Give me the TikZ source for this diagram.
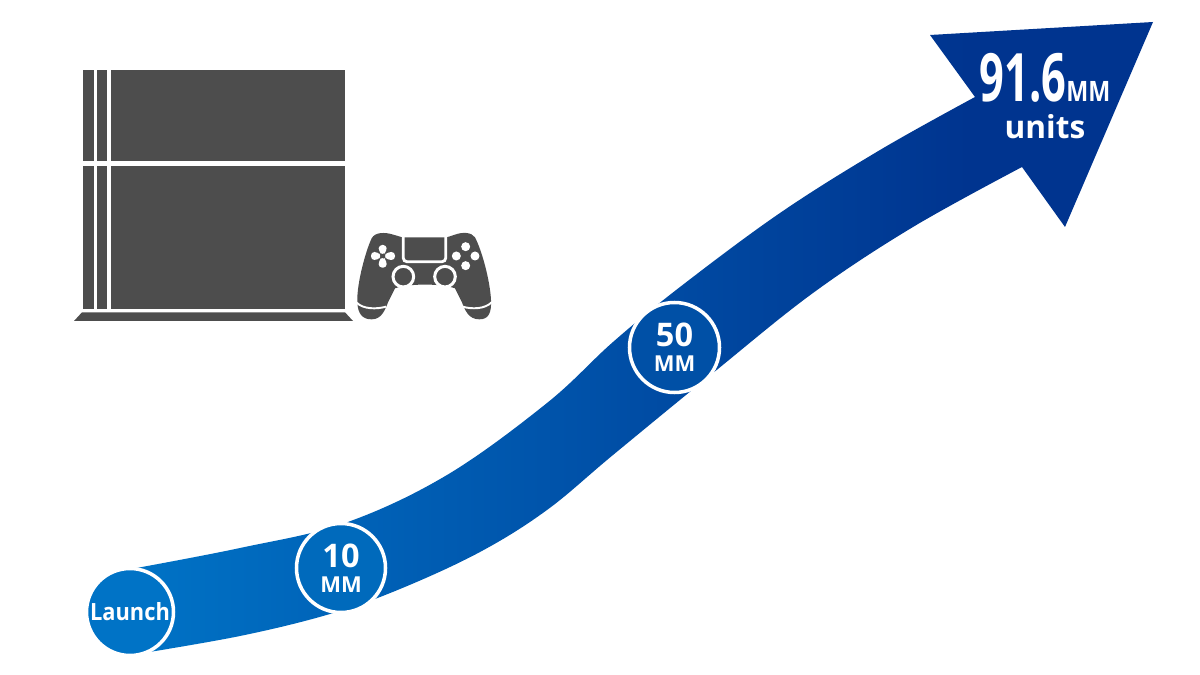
\documentclass[tikz,border=0pt]{standalone}
\usepackage{fontspec}
\setmainfont{Open Sans}
\definecolor{G}{RGB}{77, 77, 77}
\definecolor{L}{RGB}{0, 115, 198}
\definecolor{D}{RGB}{0, 52, 143}
\definecolor{T}{RGB}{0, 106, 188}
\definecolor{F}{RGB}{0, 80, 166}
\pgfdeclarehorizontalshading{bandfade}{100bp}{color(0bp)=(L); color(25bp)=(L); color(66bp)=(D); color(100bp)=(D)}
\tikzset{stage/.style={circle, draw=white, line width=2pt, inner sep=0pt, text=white, font=\bfseries, align=center}}
\tikzset{label/.style={text=white, font=\bfseries, inner sep=0pt}}
\begin{document}
\begin{tikzpicture}[x=0.02cm, y=-0.02cm]
  \useasboundingbox (0,0) rectangle (1200,675);
  \shade[shading=bandfade] plot[smooth, tension=0.6] coordinates {(131,569) (240,548) (345,523) (447,475) (547,403) (613,342) (680,287) (780,213) (880,150) (975,97)} -- (930,35) -- (1153,22) -- (1065,227) -- plot[smooth, tension=0.6] coordinates {(1022,167) (913,227) (813,293) (713,373) (613,455) (547,510) (480,552) (400,589) (330,614) (240,636) (131,655)} -- cycle;
  \fill[G] (83,70) rectangle (93.7,161.3);
  \fill[G] (96.7,70) rectangle (106.7,161.3);
  \fill[G] (110.7,70) rectangle (345,161.3);
  \fill[G] (83,165.7) rectangle (93.7,309);
  \fill[G] (96.7,165.7) rectangle (106.7,309);
  \fill[G] (110.7,165.7) rectangle (345,309);
  \fill[G] (82,312.3) -- (345,312.3) -- (353,321) -- (74,321) -- cycle;
  \begin{scope}[shift={(340,220)}, x=0.02cm/3, y=-0.02cm/3]
    \fill[G] (187,52) -- (160,44) .. controls (135,36) and (105,36) .. (95,55) .. controls (78,90) and (50,190) .. (52,245) .. controls (53,285) and (70,298) .. (95,298) .. controls (125,298) and (135,270) .. (145,245) -- (165,205) .. controls (205,190) and (305,190) .. (345,205) -- (365,245) .. controls (375,270) and (385,298) .. (418,298) .. controls (445,298) and (455,280) .. (453,240) .. controls (450,180) and (425,90) .. (405,52) .. controls (395,36) and (365,36) .. (345,44) -- (320,52) -- cycle;
    \draw[white, line width=1.1pt] (50,248) .. controls (70,268) and (110,268) .. (138,260);
    \draw[white, line width=1.1pt] (368,260) .. controls (395,268) and (435,268) .. (456,246);
    \draw[white, line width=1.6pt, rounded corners=2pt] (190,48) -- (190,125) -- (317,125) -- (317,48);
    \draw[white, line width=1.7pt, fill=G] (190,170) circle (31);
    \draw[white, line width=1.7pt, fill=G] (315,170) circle (31);
    \fill[white, rounded corners=2pt] (116,75) -- (140,75) -- (140,94) -- (128,106) -- (116,94) -- cycle;
    \fill[white, rounded corners=2pt] (116,143) -- (140,143) -- (140,122) -- (128,110) -- (116,122) -- cycle;
    \fill[white, rounded corners=2pt] (93,96) -- (93,120) -- (113,120) -- (125,108) -- (113,96) -- cycle;
    \fill[white, rounded corners=2pt] (165,96) -- (165,120) -- (143,120) -- (131,108) -- (143,96) -- cycle;
    \fill[white] (377,80) circle (13.5);
    \fill[white] (349,108) circle (13.5);
    \fill[white] (405,108) circle (13.5);
    \fill[white] (377,137) circle (13.5);
  \end{scope}
  \node[stage, fill=L, minimum size=0.02cm*87] (launch) at (130,612) {\fontsize{13.5}{15}\selectfont\scalebox{0.92}[1]{Launch}};
  \node[stage, fill=T, minimum size=0.02cm*89] (ten) at (341,568) {\fontsize{18.5}{19}\selectfont 10\\[2pt]\fontsize{12.5}{13}\selectfont MM};
  \node[stage, fill=F, minimum size=0.02cm*90] (fifty) at (674.5,347.5) {\fontsize{18.5}{19}\selectfont 50\\[2pt]\fontsize{12.5}{13}\selectfont MM};
  \node[label] (total) at (1045,78) {\fontsize{38}{40}\selectfont\scalebox{0.65}[1]{91.6}\fontsize{16}{18}\selectfont\scalebox{0.83}[1]{MM}};
  \node[label] (units) at (1045,127) {\fontsize{18}{20}\selectfont units};
\end{tikzpicture}
\end{document}
